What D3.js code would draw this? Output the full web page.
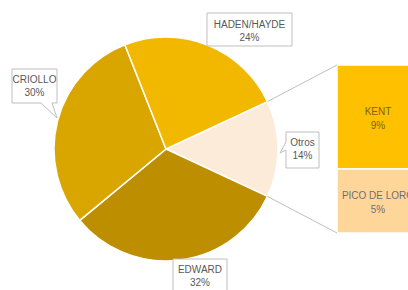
<!DOCTYPE html>
<html>
<head>
<meta charset="utf-8">
<script src="https://cdn.jsdelivr.net/npm/d3@7"></script>
<style>
  body { margin: 0; background: #fff; }
  text { font-family: "Liberation Sans", Arial, sans-serif; font-size: 10px; fill: #595959; }
</style>
</head>
<body>
<div id="chart"></div>
<script>
// pie categories (clockwise starting at Otros) and shares
var pieNames = ["Otros", "EDWARD", "CRIOLLO", "HADEN/HAYDE"];
var pieValues = [13.9, 32, 30, 24];
var pieColors = ["#FDEBDA", "#BD8E00", "#D9A600", "#F2B800"];

// breakdown of Otros
var barNames = ["KENT", "PICO DE LORO"];
var barValues = [8.6, 5.3];
var barColors = ["#FFC000", "#FFD699"];

var width = 408, height = 290;
var cx = 166, cy = 149, r = 112;
var total = d3.sum(pieValues);
var pct = function(v) { return Math.round(v / total * 100) + "%"; };

var svg = d3.select("#chart").append("svg")
  .attr("width", width)
  .attr("height", height);

// Otros slice centred on 3 o'clock
var otrosAngle = pieValues[0] / total * 2 * Math.PI;
var start = Math.PI / 2 - otrosAngle / 2;

var pie = d3.pie().sort(null).value(function(d) { return d; })
  .startAngle(start).endAngle(start + 2 * Math.PI);
var arc = d3.arc().innerRadius(0).outerRadius(r);
var arcs = pie(pieValues);

var g = svg.append("g").attr("transform", "translate(" + cx + "," + cy + ")");
g.selectAll("path").data(arcs).enter().append("path")
  .attr("d", arc)
  .attr("fill", function(d, i) { return pieColors[i]; })
  .attr("stroke", "#fff")
  .attr("stroke-width", 1.5);

// stacked bar for Otros
var barX = 337, barW = 82;
var y = d3.scaleLinear().domain([0, d3.sum(barValues)]).range([65, 233]);
var stack = d3.cumsum([0].concat(barValues));
svg.selectAll("rect.bar").data(barValues).enter().append("rect")
  .attr("class", "bar")
  .attr("x", barX)
  .attr("y", function(d, i) { return y(stack[i]); })
  .attr("width", barW)
  .attr("height", function(d) { return y(d) - y(0); })
  .attr("fill", function(d, i) { return barColors[i]; })
  .attr("stroke", "#fff")
  .attr("stroke-width", 1.5);

// connector lines from Otros slice edges to bar corners
var a0 = arcs[0].startAngle, a1 = arcs[0].endAngle;
var p0 = [cx + r * Math.sin(a0), cy - r * Math.cos(a0)];
var p1 = [cx + r * Math.sin(a1), cy - r * Math.cos(a1)];
svg.append("line")
  .attr("x1", p0[0]).attr("y1", p0[1])
  .attr("x2", barX).attr("y2", y(0))
  .attr("stroke", "#bfbfbf").attr("stroke-width", 1);
svg.append("line")
  .attr("x1", p1[0]).attr("y1", p1[1])
  .attr("x2", barX).attr("y2", y(d3.sum(barValues)))
  .attr("stroke", "#bfbfbf").attr("stroke-width", 1);

// bar labels
svg.selectAll("text.barlbl").data(barValues).enter().append("text")
  .attr("class", "barlbl")
  .attr("text-anchor", "middle")
  .attr("x", barX + 41)
  .attr("y", function(d, i) { return (y(stack[i]) + y(stack[i + 1])) / 2 - 2; })
  .style("fill", function(d, i) { return i == 0 ? "#7a6420" : "#6f6f6f"; })
  .each(function(d, i) {
    var t = d3.select(this);
    t.append("tspan").attr("x", barX + 41).text(barNames[i]);
    t.append("tspan").attr("x", barX + 41).attr("dy", 14).text(pct(d));
  });

// pie label boxes (callouts)
var boxes = {
  "HADEN/HAYDE": "M207,13H292V46H207Z",
  "CRIOLLO": "M12,69H57V103H52L57,118L41,103H12Z",
  "Otros": "M286,132H319V168H286V150L280,153L286,142Z",
  "EDWARD": "M173,259H227V294H173Z"
};
var labelXY = {
  "HADEN/HAYDE": [249.5, 28],
  "CRIOLLO": [34.5, 83],
  "Otros": [302.5, 146],
  "EDWARD": [200, 273]
};

pieNames.forEach(function(name, i) {
  svg.append("path")
    .attr("d", boxes[name])
    .attr("fill", "#fff")
    .attr("stroke", "#bfbfbf")
    .attr("stroke-width", 1);
  var t = svg.append("text").attr("text-anchor", "middle").attr("y", labelXY[name][1]);
  t.append("tspan").attr("x", labelXY[name][0]).text(name);
  t.append("tspan").attr("x", labelXY[name][0]).attr("dy", 13).text(pct(pieValues[i]));
});
</script>
</body>
</html>
